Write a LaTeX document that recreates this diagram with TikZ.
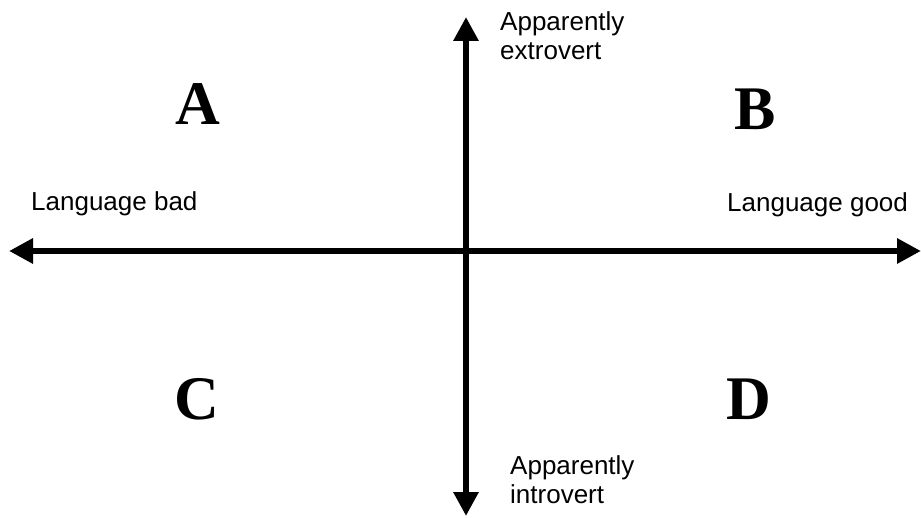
\documentclass[tikz,border=0pt]{standalone}
\usepackage{fontspec}
\setmainfont{Liberation Serif}
\setsansfont{Liberation Sans}
\usetikzlibrary{arrows.meta}
\tikzset{
  axis/.style={line width=6.5pt, {Triangle[length=24pt,width=24pt]}-{Triangle[length=24pt,width=24pt]}},
  quad/.style={font=\rmfamily\bfseries\fontsize{62}{62}\selectfont, inner sep=0pt},
  lab/.style={font=\sffamily\fontsize{26}{29}\selectfont, align=left, anchor=west, inner sep=0pt}
}
\begin{document}
\begin{tikzpicture}[x=1pt,y=-1pt]
\useasboundingbox (0,0) rectangle (921,518);
\coordinate (L) at (9,251);
\coordinate (R) at (921,251);
\coordinate (T) at (466,17);
\coordinate (Bt) at (466,516);
\draw[axis] (L) -- (R);
\draw[axis] (T) -- (Bt);
\node[quad] (A) at (198,104) {A};
\node[quad] (B) at (755,109) {B};
\node[quad] (C) at (197,399) {C};
\node[quad] (D) at (749,399) {D};
\node[lab] (lbad) at (31,204) {Language bad};
\node[lab] (lgood) at (727,205) {Language good};
\node[lab] (ext) at (500,36) {Apparently\\extrovert};
\node[lab] (int) at (510,480) {Apparently\\introvert};
\end{tikzpicture}
\end{document}
